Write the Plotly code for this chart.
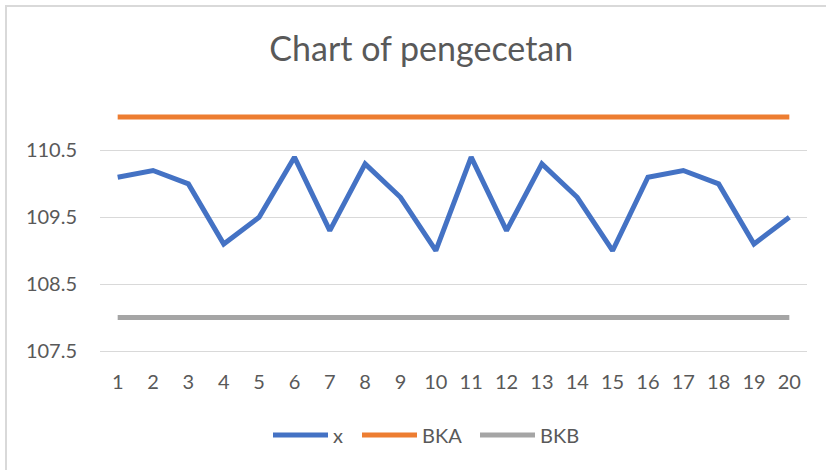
import plotly.graph_objects as go

samples = list(range(1, 21))
x_values = [110.1, 110.2, 110.0, 109.1, 109.5, 110.4, 109.3, 110.3, 109.8, 109.0,
            110.4, 109.3, 110.3, 109.8, 109.0, 110.1, 110.2, 110.0, 109.1, 109.5]
bka_values = [111.0] * 20
bkb_values = [108.0] * 20
y_ticks = [107.5, 108.5, 109.5, 110.5]
series_names = ["x", "BKA", "BKB"]
series_colors = ["#4472C4", "#ED7D31", "#A5A5A5"]

FONT = "Lato"
TXT = "#595959"

W, H = 826, 470
L, R, T, B = 100, 19, 97, 119
PW, PH = W - L - R, H - T - B


def px(xp):
    return (xp - L) / PW


def py(yp):
    return (H - B - yp) / PH


fig = go.Figure()
for name, vals, col in zip(series_names, [x_values, bka_values, bkb_values], series_colors):
    fig.add_trace(go.Scatter(x=samples, y=vals, mode="lines", name=name,
                             line=dict(color=col, width=5), showlegend=False))

# manual legend (Excel-style long line keys)
shapes = [dict(type="rect", xref="paper", yref="paper",
               x0=px(6), x1=px(840), y0=py(480), y1=py(6),
               line=dict(color="#D9D9D9", width=2), layer="below")]
annotations = []
legend_starts = [273, 362, 480]
for name, col, x0 in zip(series_names, series_colors, legend_starts):
    shapes.append(dict(type="line", xref="paper", yref="paper",
                       x0=px(x0), x1=px(x0 + 55), y0=py(435), y1=py(435),
                       line=dict(color=col, width=5)))
    annotations.append(dict(text=name, xref="paper", yref="paper",
                            x=px(x0 + 58), y=py(435), xanchor="left", yanchor="middle",
                            showarrow=False, font=dict(family=FONT, size=20, color=TXT)))

fig.update_layout(
    width=W, height=H,
    margin=dict(l=L, r=R, t=T, b=B),
    paper_bgcolor="white", plot_bgcolor="white",
    font=dict(family=FONT, color=TXT, size=20),
    title=dict(text="Chart of pengecetan", x=0.51, xanchor="center",
               y=1 - 49 / 470, yanchor="middle", yref="container",
               font=dict(family=FONT, size=34, color=TXT)),
    showlegend=False,
    xaxis=dict(range=[0.5, 20.5], tickvals=samples, ticktext=[str(s) for s in samples],
               showgrid=False, zeroline=False, showline=True, linecolor="#D9D9D9",
               linewidth=1, ticks="", ticklabelstandoff=13,
               tickfont=dict(family=FONT, size=20, color=TXT)),
    yaxis=dict(range=[107.5, 111.3], tickvals=y_ticks, ticktext=[str(v) for v in y_ticks],
               showgrid=True, gridcolor="#D9D9D9", gridwidth=1, zeroline=False,
               showline=False, ticks="", ticklabelstandoff=22,
               tickfont=dict(family=FONT, size=20, color=TXT)),
    shapes=shapes,
    annotations=annotations,
)

fig.write_html("out.html", config={"displayModeBar": False},
               post_script="document.body.style.margin='0';document.body.style.padding='0';")
